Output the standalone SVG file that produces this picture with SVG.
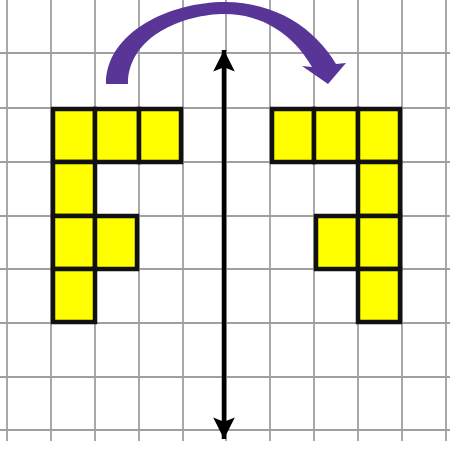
<svg xmlns="http://www.w3.org/2000/svg" width="450" height="452" viewBox="0 0 450 452">
  <style>
    .grid line { stroke: #a0a0a0; stroke-width: 1.8; }
    .cell { fill: #ffff00; stroke: #111; stroke-width: 4.5; stroke-linejoin: miter; }
  </style>
  <defs>
    <marker id="ah" viewBox="0 0 10 10" refX="10" refY="5" markerWidth="4.8" markerHeight="4.8" orient="auto-start-reverse" markerUnits="strokeWidth">
      <path d="M0,0 L10,5 L0,10 L2,5 Z" fill="#000"/>
    </marker>
  </defs>
  <rect width="450" height="452" fill="#fff"/>
  <g id="grid" class="grid">
    <line x1="7" y1="0" x2="7" y2="441"/>
    <line x1="51" y1="0" x2="51" y2="441"/>
    <line x1="95" y1="0" x2="95" y2="441"/>
    <line x1="139" y1="0" x2="139" y2="441"/>
    <line x1="183" y1="0" x2="183" y2="441"/>
    <line x1="226" y1="0" x2="226" y2="441"/>
    <line x1="270" y1="0" x2="270" y2="441"/>
    <line x1="314" y1="0" x2="314" y2="441"/>
    <line x1="358" y1="0" x2="358" y2="441"/>
    <line x1="402" y1="0" x2="402" y2="441"/>
    <line x1="446" y1="0" x2="446" y2="441"/>
    <line x1="0" y1="53" x2="450" y2="53"/>
    <line x1="0" y1="108" x2="450" y2="108"/>
    <line x1="0" y1="162" x2="450" y2="162"/>
    <line x1="0" y1="216" x2="450" y2="216"/>
    <line x1="0" y1="269" x2="450" y2="269"/>
    <line x1="0" y1="323" x2="450" y2="323"/>
    <line x1="0" y1="377" x2="450" y2="377"/>
    <line x1="0" y1="430" x2="450" y2="430"/>
  </g>
  <g id="shape-F">
    <rect class="cell" x="53" y="109" width="42" height="53"/>
    <rect class="cell" x="95" y="109" width="44" height="53"/>
    <rect class="cell" x="139" y="109" width="42" height="53"/>
    <rect class="cell" x="53" y="162" width="42" height="54"/>
    <rect class="cell" x="53" y="216" width="42" height="53"/>
    <rect class="cell" x="95" y="216" width="42" height="53"/>
    <rect class="cell" x="53" y="269" width="42" height="53"/>
  </g>
  <g id="shape-mirror">
    <rect class="cell" x="272" y="109" width="42" height="53"/>
    <rect class="cell" x="314" y="109" width="44" height="53"/>
    <rect class="cell" x="358" y="109" width="42" height="53"/>
    <rect class="cell" x="358" y="162" width="42" height="54"/>
    <rect class="cell" x="316" y="216" width="42" height="53"/>
    <rect class="cell" x="358" y="216" width="42" height="53"/>
    <rect class="cell" x="358" y="269" width="42" height="53"/>
  </g>
  <g id="connectors">
    <line id="mirror-line" x1="224" y1="50" x2="224" y2="439" stroke="#000" stroke-width="4.5" marker-start="url(#ah)" marker-end="url(#ah)"/>
    <path id="flip-arrow" d="M106 84 C106 32 170 2 225 2 C275 2 315 28 336 64 L346 63 L328 84 L302 66 L312 67 C293 34 262 14 225 14 C184 14 128 36 128 84 Z" fill="#5a3598"/>
  </g>
</svg>
